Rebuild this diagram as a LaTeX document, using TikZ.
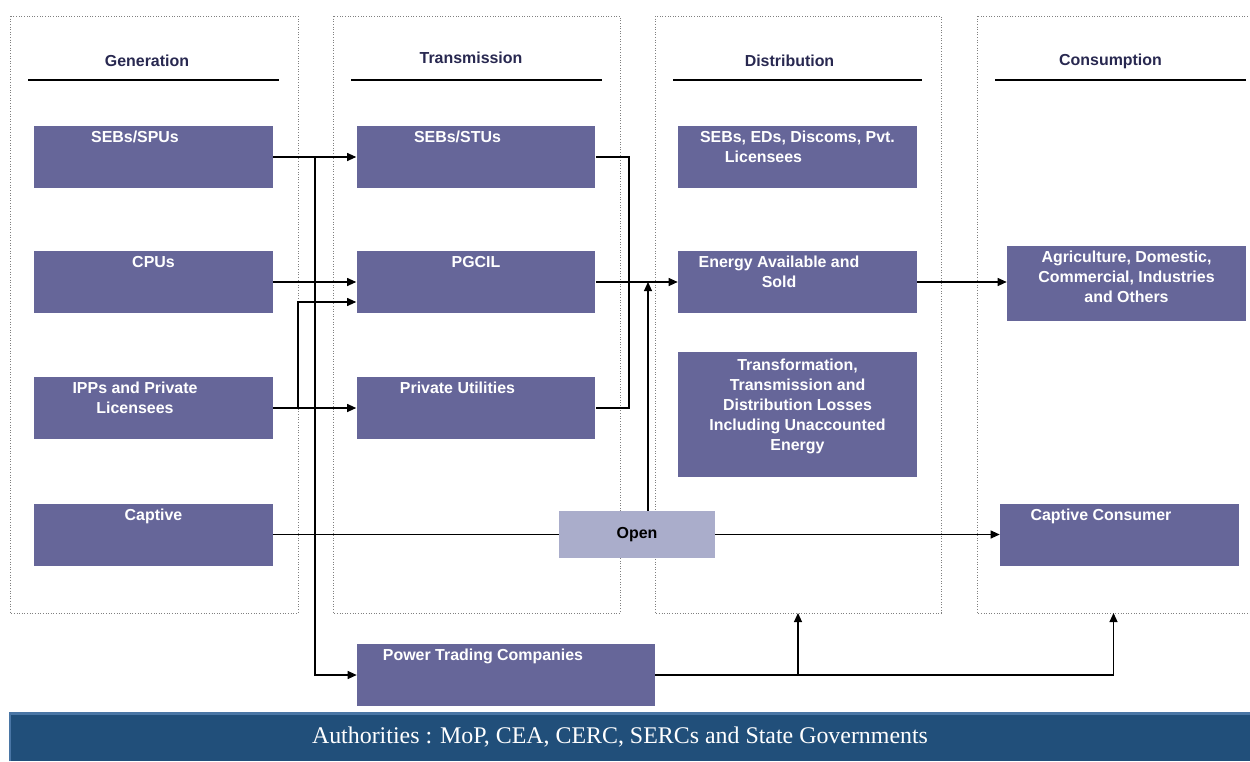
\documentclass[tikz,border=0pt]{standalone}
\usepackage{fontspec}
\setmainfont{Liberation Serif}
\setsansfont{Liberation Sans}
\usetikzlibrary{arrows.meta}
\definecolor{unitfill}{RGB}{102,102,153}
\definecolor{openfill}{RGB}{170,173,203}
\definecolor{headtext}{RGB}{40,40,80}
\definecolor{bannerfill}{RGB}{33,79,122}
\definecolor{bannerrim}{RGB}{74,118,165}

\begin{document}
\begin{tikzpicture}[x=0.02cm, y=-0.02cm]
	\tikzstyle{unit} = [fill=unitfill, minimum width=4.78cm, minimum height=1.24cm, inner sep=0pt]
	\tikzstyle{tag} = [text=white, font=\sffamily\bfseries\fontsize{9.07}{11.34}\selectfont, align=center, inner sep=0pt, anchor=north, yshift=-0.1cm]
	\tikzstyle{head} = [text=headtext, font=\sffamily\bfseries\fontsize{9.07}{11.34}\selectfont, inner sep=0pt]
	\tikzstyle{frame} = [draw=gray, densely dotted, line width=0.5pt]
	\tikzstyle{wire} = [line width=0.6pt]
	\tikzstyle{link} = [line width=0.6pt, -{Triangle[length=0.18cm, width=0.16cm]}]
	\useasboundingbox (0,0) rectangle (1250,761);
	
	\foreach \l/\r/\a/\b in {10/298/28/279, 333/620/351/602, 655/941/673/922, 977/1256/995/1246} {\draw[frame] (\l,16) rectangle (\r,613); \draw[line width=0.055cm] (\a,80) -- (\b,80);}
	\node[head] (hgen) at (147,61) {Generation}; \node[head] (htra) at (471,58) {Transmission}; \node[head] (hdis) at (789.5,61) {Distribution}; \node[head] (hcon) at (1110.5,61) {Consumption};
	
	\node[unit, label={[tag, xshift=-0.37cm]90:SEBs/SPUs}] (gsp) at (153.5,157) {}; \node[unit, label={[tag]90:CPUs}] (gcpu) at (153.5,282) {}; \node[unit, label={[tag, xshift=-0.37cm]90:{IPPs and Private\\Licensees}}] (gipp) at (153.5,408) {}; \node[unit, label={[tag]90:Captive}] (gcap) at (153.5,534.5) {};
	\node[unit, label={[tag, xshift=-0.37cm]90:SEBs/STUs}] (tseb) at (476,157) {}; \node[unit, label={[tag]90:PGCIL}] (tpg) at (476,282) {}; \node[unit, label={[tag, xshift=-0.37cm]90:Private Utilities}] (tpu) at (476,408) {}; \node[unit, minimum width=5.96cm, label={[tag, xshift=-0.46cm]90:Power Trading Companies}] (ptc) at (506,675) {};
	\node[unit, label={[tag]90:{SEBs, EDs, Discoms, Pvt.\\Licensees\hspace*{1.36cm}}}] (dseb) at (797.5,157) {}; \node[unit, label={[tag, xshift=-0.37cm]90:{Energy Available and\\Sold}}] (deas) at (797.5,282) {}; \node[unit, minimum height=2.5cm, label={[tag, yshift=-0.04cm]90:{Transformation,\\Transmission and\\Distribution Losses\\Including Unaccounted\\Energy}}] (dloss) at (797.5,414.5) {};
	\node[unit, minimum height=1.5cm, label={[tag]90:{Agriculture, Domestic,\\Commercial, Industries\\and Others}}] (cagr) at (1126.5,283.5) {}; \node[unit, label={[tag, xshift=-0.37cm]90:Captive Consumer}] (ccap) at (1119.5,534.5) {};
	\node[unit, fill=openfill, minimum width=3.12cm, minimum height=0.94cm, font=\sffamily\bfseries\fontsize{9.07}{11.34}\selectfont] (open) at (637,534.5) {Open};
	
	\node[fill=bannerfill, minimum width=24.8cm, minimum height=0.94cm, inner sep=0pt, text=white, font=\fontsize{13.6}{16}\selectfont] (auth) at (630,737.5) {Authorities : MoP, CEA, CERC, SERCs and State Governments\hspace*{0.4cm}};
	\draw[bannerrim, line width=0.05cm] (auth.south west) -- (auth.north west) -- (auth.north east);
	
	\coordinate (jsp) at (315,157); \coordinate (jipp) at (298,408); \coordinate (jtr) at (629,157); \coordinate (jop) at (648,282); \coordinate (jdis) at (798,613); \coordinate (jcon) at (1113.5,613);
	\draw[link] (gsp.east) -- (tseb.west); \draw[link] (jsp) |- (ptc.west); \draw[link] (gcpu.east) -- (tpg.west); \draw[link] (gipp.east) -- (tpu.west); \draw[link] (jipp) |- ([yshift=-0.4cm]tpg.west);
	\draw[wire] (tseb.east) -- (jtr) |- (tpu.east); \draw[link] (tpg.east) -- (deas.west); \draw[link] (deas.east) -- (deas.east -| cagr.west);
	\draw[wire] (gcap.east) -- (open.west); \draw[link] (open.east) -- (ccap.west); \draw[link] (open.north -| jop) -- (jop);
	\draw[link] (ptc.east) -| (jcon); \draw[link] (ptc.east -| jdis) -- (jdis);
\end{tikzpicture}
\end{document}
